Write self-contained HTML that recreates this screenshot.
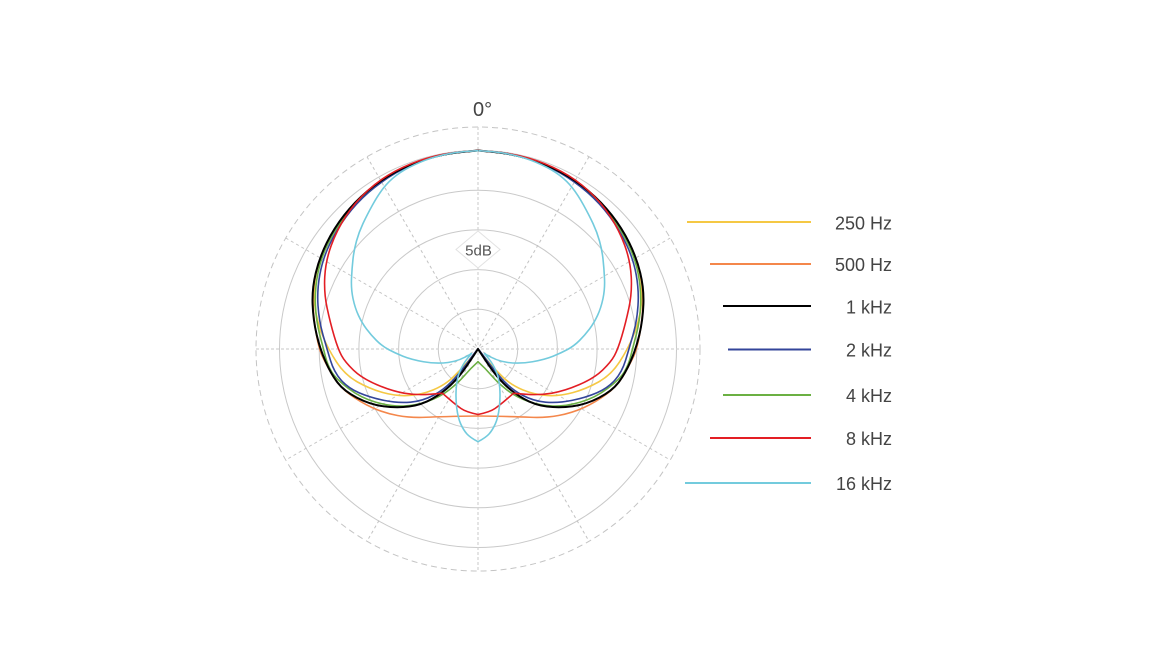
<!DOCTYPE html>
<html>
<head>
<meta charset="utf-8">
<style>
  html, body { margin: 0; padding: 0; background: #ffffff; }
  body { width: 1170px; height: 660px; overflow: hidden; }
  svg { display: block; }
  text { font-family: "Liberation Sans", "DejaVu Sans", sans-serif; }
</style>
</head>
<body>
<svg width="1170" height="660" viewBox="0 0 1170 660" xmlns="http://www.w3.org/2000/svg">
  <rect x="0" y="0" width="1170" height="660" fill="#ffffff"/>

  <!-- grid -->
  <g fill="none">
    <circle cx="478" cy="349" r="222" stroke="#c4c4c4" stroke-width="1" stroke-dasharray="6 4"/>
    <circle cx="478" cy="349" r="198.5" stroke="#c9c9c9" stroke-width="1"/>
    <circle cx="478" cy="349" r="158.8" stroke="#c9c9c9" stroke-width="1"/>
    <circle cx="478" cy="349" r="119.1" stroke="#c9c9c9" stroke-width="1"/>
    <circle cx="478" cy="349" r="79.4" stroke="#c9c9c9" stroke-width="1"/>
    <circle cx="478" cy="349" r="39.7" stroke="#c9c9c9" stroke-width="1"/>
    <g stroke="#c2c2c2" stroke-width="1" stroke-dasharray="3 3">
      <line x1="367" y1="156.74" x2="589" y2="541.26"/>
      <line x1="589" y1="156.74" x2="367" y2="541.26"/>
      <line x1="285.74" y1="238" x2="670.26" y2="460"/>
      <line x1="670.26" y1="238" x2="285.74" y2="460"/>
    </g>
    <g stroke="#d2d2d2" stroke-width="1.2" stroke-dasharray="3 2">
      <line x1="478" y1="127" x2="478" y2="571"/>
      <line x1="256" y1="349" x2="700" y2="349"/>
    </g>
  </g>

  <!-- 5dB label -->
  <polygon points="478,231 500,249.5 478,268 456,249.5" fill="#ffffff" stroke="#e2e2e2" stroke-width="1"/>
  <text x="478.5" y="255.5" font-size="15" fill="#555555" text-anchor="middle">5dB</text>

  <!-- 0 degree label -->
  <text x="473" y="116" font-size="20" fill="#444444">0°</text>

  <!-- curves right half -->
  <g fill="none" stroke-linejoin="round" stroke-linecap="round">
    <path stroke="#F5C844" stroke-width="1.6" d="M478,150.5 L495.2,152.15 Q512.4,153.8 528.9,158.85 Q545.4,163.9 560.45,172 Q575.5,180.1 588.3,191.2 Q601.1,202.3 611.35,215.4 Q621.6,228.5 629.05,243 Q636.5,257.5 639.75,273.15 Q643,288.8 641.25,304.65 Q639.5,320.5 633.75,334.75 Q628,349 619.5,362 Q611,375 598.5,382 Q586,389 572.75,392.65 Q559.5,396.3 547,395.5 Q534.5,394.7 522.75,389.85 Q511,385 502.75,377 Q494.5,369 487.75,361 Q481,353 478,349"/>
    <path stroke="#F4874B" stroke-width="1.6" d="M478,150.5 L495.2,152.15 Q512.4,153.8 528.9,158.85 Q545.4,163.9 560.45,172 Q575.5,180.1 588.3,191.2 Q601.1,202.3 611.35,215.4 Q621.6,228.5 629.05,243 Q636.5,257.5 640,273 Q643.5,288.5 642.9,304.25 Q642.3,320 639.65,334.5 Q637,349 634,355.5 Q631,362 624.5,373.75 Q618,385.5 607,393.75 Q596,402 584,407.5 Q572,413 558.5,415.5 Q545,418 530,417.25 Q515,416.5 478,416"/>
    <path stroke="#6BB043" stroke-width="1.6" d="M478,150.5 L495.2,152.25 Q512.4,154 528.85,159.1 Q545.3,164.2 560.15,172.6 Q575,181 587.9,191.85 Q600.8,202.7 610.85,215.9 Q620.9,229.1 628.05,243.68 Q635.2,258.25 638.2,273.78 Q641.2,289.3 640.6,304.9 Q640,320.5 636.25,334.75 Q632.5,349 630.5,357 Q628.5,365 624.25,372 Q620,379 607.5,388.5 Q595,398 580,402.25 Q565,406.5 552.5,406 Q540,405.5 528,401.25 Q516,397 507,390 Q498,383 491.5,375.5 Q485,368 478,361.7"/>
    <path stroke="#33459A" stroke-width="1.6" d="M478,150.5 L495.2,152.25 Q512.4,154 528.8,159.15 Q545.2,164.3 559.98,172.85 Q574.75,181.4 587.43,192.45 Q600.1,203.5 609.9,216.8 Q619.7,230.1 626.55,244.68 Q633.4,259.25 636.2,274.7 Q639,290.2 638,305.6 Q637,321 633,335 Q629,349 625.5,360.5 Q622,372 615,380 Q608,388 597,392.75 Q586,397.5 572,400.4 Q558,403.3 545.5,402.15 Q533,401 522,395 Q511,389 502,379 Q493,369 486.5,360 Q480,351 478,349"/>
    <path stroke="#000000" stroke-width="2" d="M478,150.5 L495.2,152.15 Q512.4,153.8 528.9,158.85 Q545.4,163.9 560.45,172 Q575.5,180.1 588.45,191 Q601.4,201.9 611.7,215.05 Q622,228.2 629.25,242.85 Q636.5,257.5 640.25,273 Q644,288.5 643.4,304.25 Q642.8,320 639.4,334.5 Q636,349 630.5,361.5 Q625,374 618.5,382.5 Q612,391 599,397.75 Q586,404.5 572.75,406.25 Q559.5,408 547,406.5 Q534.5,405 523.75,398.75 Q513,392.5 505.5,385.25 Q498,378 492.9,371 Q487.8,364 478,349"/>
    <path stroke="#E31E24" stroke-width="1.6" d="M478,150.5 L495.25,151.95 Q512.5,153.4 529.05,158.25 Q545.6,163.1 560.8,171.2 Q576,179.3 588.55,190.8 Q601.1,202.3 610.2,216.35 Q619.3,230.4 624.85,245.7 Q630.4,261 631.25,276.95 Q632.1,292.9 628.9,307.95 Q625.7,323 621.85,336 Q618,349 614.5,355.5 Q611,362 602.5,370.15 Q594,378.3 579.25,384.65 Q564.5,391 552,393.15 Q539.5,395.3 526.5,394.3 L513.5,393.3 L506.75,399.15 Q500,405 495,408.5 Q490,412 478,414.5"/>
    <path stroke="#73CBDD" stroke-width="1.6" d="M478,150.7 L486.5,151.2 Q495,151.7 503.5,153.1 Q512,154.5 521,157 Q530,159.5 541,164.5 Q552,169.5 559.5,175.25 Q567,181 572.5,188 Q578,195 583.5,205 Q589,215 593,223.5 Q597,232 599.5,241 Q602,250 603,259 Q604,268 604.5,278.5 Q605,289 603,298.5 Q601,308 597.5,315.5 Q594,323 589.5,329 Q585,335 579.5,340.5 Q574,346 567.5,349.5 Q561,353 553,356.25 Q545,359.5 532.5,361.75 Q520,364 508,362.5 Q496,361 484.5,353.5 L488.75,358.75 Q493,364 496,371 Q499,378 499.75,388 Q500.5,398 499.25,408 Q498,418 495.25,424 Q492.5,430 489.25,433.75 Q486,437.5 478,441.7"/>
  </g>

  <!-- curves left half (mirror) -->
  <g fill="none" stroke-linejoin="round" stroke-linecap="round" transform="matrix(-1 0 0 1 956 0)">
    <path stroke="#F5C844" stroke-width="1.6" d="M478,150.5 L495.2,152.15 Q512.4,153.8 528.9,158.85 Q545.4,163.9 560.45,172 Q575.5,180.1 588.3,191.2 Q601.1,202.3 611.35,215.4 Q621.6,228.5 629.05,243 Q636.5,257.5 639.75,273.15 Q643,288.8 641.25,304.65 Q639.5,320.5 633.75,334.75 Q628,349 619.5,362 Q611,375 598.5,382 Q586,389 572.75,392.65 Q559.5,396.3 547,395.5 Q534.5,394.7 522.75,389.85 Q511,385 502.75,377 Q494.5,369 487.75,361 Q481,353 478,349"/>
    <path stroke="#F4874B" stroke-width="1.6" d="M478,150.5 L495.2,152.15 Q512.4,153.8 528.9,158.85 Q545.4,163.9 560.45,172 Q575.5,180.1 588.3,191.2 Q601.1,202.3 611.35,215.4 Q621.6,228.5 629.05,243 Q636.5,257.5 640,273 Q643.5,288.5 642.9,304.25 Q642.3,320 639.65,334.5 Q637,349 634,355.5 Q631,362 624.5,373.75 Q618,385.5 607,393.75 Q596,402 584,407.5 Q572,413 558.5,415.5 Q545,418 530,417.25 Q515,416.5 478,416"/>
    <path stroke="#6BB043" stroke-width="1.6" d="M478,150.5 L495.2,152.25 Q512.4,154 528.85,159.1 Q545.3,164.2 560.15,172.6 Q575,181 587.9,191.85 Q600.8,202.7 610.85,215.9 Q620.9,229.1 628.05,243.68 Q635.2,258.25 638.2,273.78 Q641.2,289.3 640.6,304.9 Q640,320.5 636.25,334.75 Q632.5,349 630.5,357 Q628.5,365 624.25,372 Q620,379 607.5,388.5 Q595,398 580,402.25 Q565,406.5 552.5,406 Q540,405.5 528,401.25 Q516,397 507,390 Q498,383 491.5,375.5 Q485,368 478,361.7"/>
    <path stroke="#33459A" stroke-width="1.6" d="M478,150.5 L495.2,152.25 Q512.4,154 528.8,159.15 Q545.2,164.3 559.98,172.85 Q574.75,181.4 587.43,192.45 Q600.1,203.5 609.9,216.8 Q619.7,230.1 626.55,244.68 Q633.4,259.25 636.2,274.7 Q639,290.2 638,305.6 Q637,321 633,335 Q629,349 625.5,360.5 Q622,372 615,380 Q608,388 597,392.75 Q586,397.5 572,400.4 Q558,403.3 545.5,402.15 Q533,401 522,395 Q511,389 502,379 Q493,369 486.5,360 Q480,351 478,349"/>
    <path stroke="#000000" stroke-width="2" d="M478,150.5 L495.2,152.15 Q512.4,153.8 528.9,158.85 Q545.4,163.9 560.45,172 Q575.5,180.1 588.45,191 Q601.4,201.9 611.7,215.05 Q622,228.2 629.25,242.85 Q636.5,257.5 640.25,273 Q644,288.5 643.4,304.25 Q642.8,320 639.4,334.5 Q636,349 630.5,361.5 Q625,374 618.5,382.5 Q612,391 599,397.75 Q586,404.5 572.75,406.25 Q559.5,408 547,406.5 Q534.5,405 523.75,398.75 Q513,392.5 505.5,385.25 Q498,378 492.9,371 Q487.8,364 478,349"/>
    <path stroke="#E31E24" stroke-width="1.6" d="M478,150.5 L495.25,151.95 Q512.5,153.4 529.05,158.25 Q545.6,163.1 560.8,171.2 Q576,179.3 588.55,190.8 Q601.1,202.3 610.2,216.35 Q619.3,230.4 624.85,245.7 Q630.4,261 631.25,276.95 Q632.1,292.9 628.9,307.95 Q625.7,323 621.85,336 Q618,349 614.5,355.5 Q611,362 602.5,370.15 Q594,378.3 579.25,384.65 Q564.5,391 552,393.15 Q539.5,395.3 526.5,394.3 L513.5,393.3 L506.75,399.15 Q500,405 495,408.5 Q490,412 478,414.5"/>
    <path stroke="#73CBDD" stroke-width="1.6" d="M478,150.7 L486.5,151.2 Q495,151.7 503.5,153.1 Q512,154.5 521,157 Q530,159.5 541,164.5 Q552,169.5 559.5,175.25 Q567,181 572.5,188 Q578,195 583.5,205 Q589,215 593,223.5 Q597,232 599.5,241 Q602,250 603,259 Q604,268 604.5,278.5 Q605,289 603,298.5 Q601,308 597.5,315.5 Q594,323 589.5,329 Q585,335 579.5,340.5 Q574,346 567.5,349.5 Q561,353 553,356.25 Q545,359.5 532.5,361.75 Q520,364 508,362.5 Q496,361 484.5,353.5 L488.75,358.75 Q493,364 496,371 Q499,378 499.75,388 Q500.5,398 499.25,408 Q498,418 495.25,424 Q492.5,430 489.25,433.75 Q486,437.5 478,441.7"/>
  </g>

  <!-- legend -->
  <g stroke-width="2" stroke-linecap="butt">
    <line x1="687" y1="222" x2="811" y2="222" stroke="#F5C844"/>
    <line x1="710" y1="264" x2="811" y2="264" stroke="#F4874B"/>
    <line x1="723" y1="306" x2="811" y2="306" stroke="#000000"/>
    <line x1="728" y1="349.5" x2="811" y2="349.5" stroke="#33459A"/>
    <line x1="723" y1="395" x2="811" y2="395" stroke="#6BB043"/>
    <line x1="710" y1="438" x2="811" y2="438" stroke="#E31E24"/>
    <line x1="685" y1="483" x2="811" y2="483" stroke="#73CBDD"/>
  </g>
  <g font-size="18" fill="#444444" text-anchor="end">
    <text x="892" y="229.5">250 Hz</text>
    <text x="892" y="271">500 Hz</text>
    <text x="892" y="313.5">1 kHz</text>
    <text x="892" y="356.5">2 kHz</text>
    <text x="892" y="402">4 kHz</text>
    <text x="892" y="445">8 kHz</text>
    <text x="892" y="490">16 kHz</text>
  </g>
</svg>
</body>
</html>
